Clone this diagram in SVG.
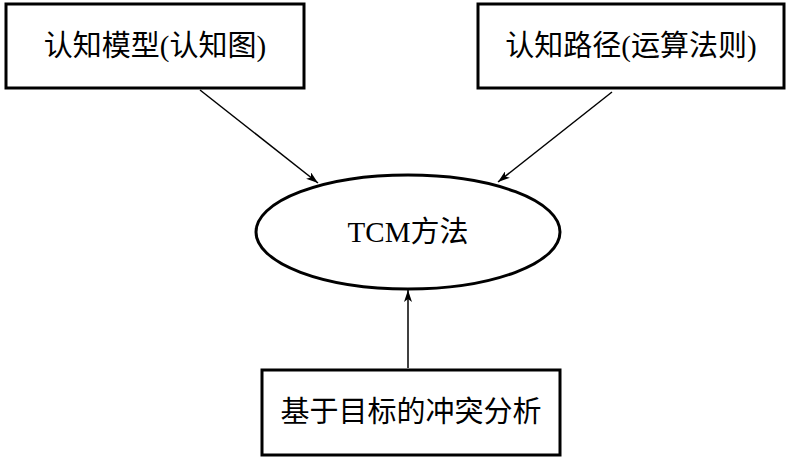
<svg xmlns="http://www.w3.org/2000/svg" width="790" height="460" viewBox="0 0 790 460">
<style>
.box{fill:#fff;stroke:#000;stroke-width:3}
.t{font-family:"Liberation Serif","Noto Sans CJK SC",serif;font-size:29px;fill:#000;text-anchor:middle;dominant-baseline:central}
.c{stroke:#000;stroke-width:1.5;fill:none;marker-end:url(#ah)}
</style>
<defs>
<marker id="ah" viewBox="0 0 12 8" refX="12" refY="4" markerWidth="12" markerHeight="8" markerUnits="userSpaceOnUse" orient="auto">
<path d="M0,0 L12,4 L0,8 L3,4 Z" fill="#000"/>
</marker>
</defs>
<rect width="790" height="460" fill="#fff"/>
<g id="connectors">
<line class="c" x1="200" y1="90" x2="318" y2="183"/>
<line class="c" x1="612" y1="92" x2="498" y2="182"/>
<line class="c" x1="408" y1="368" x2="408" y2="290"/>
</g>
<g id="n1"><rect class="box" x="6" y="4" width="298" height="84"/><text class="t" x="155" y="46">认知模型(认知图)</text></g>
<g id="n2"><rect class="box" x="478" y="4" width="306" height="84"/><text class="t" x="631" y="46">认知路径(运算法则)</text></g>
<g id="n3"><ellipse class="box" cx="408" cy="232" rx="152" ry="57"/><text class="t" x="408" y="232">TCM方法</text></g>
<g id="n4"><rect class="box" x="262" y="370" width="298" height="85"/><text class="t" x="411" y="412">基于目标的冲突分析</text></g>
</svg>
